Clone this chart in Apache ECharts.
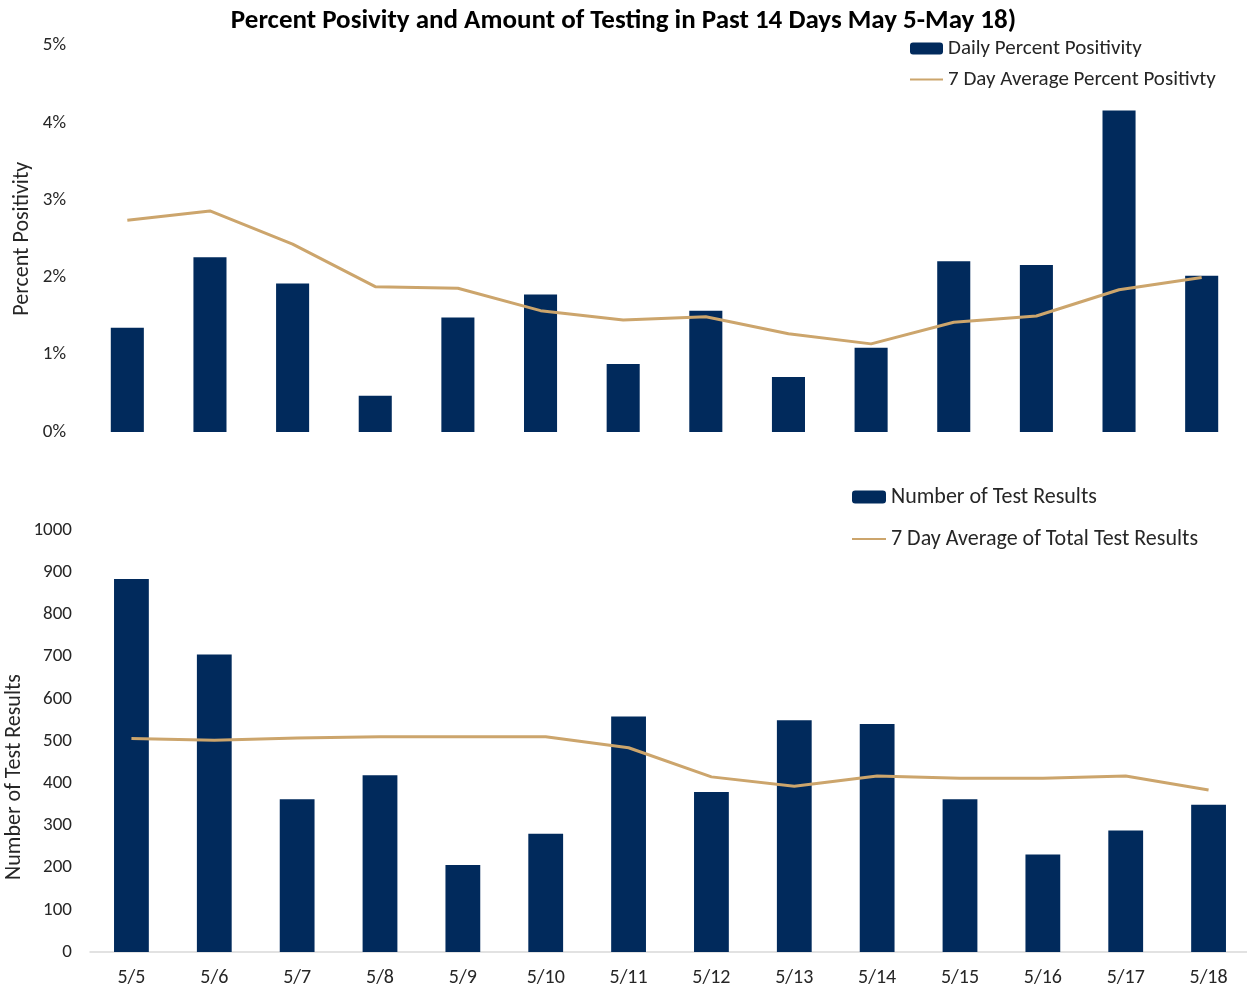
<!DOCTYPE html>
<html>
<head>
<meta charset="utf-8">
<script src="https://cdn.jsdelivr.net/npm/echarts@6/dist/echarts.min.js"></script>
<style>
    html, body { margin: 0; padding: 0; background: #fff; }
    #chart { width: 1247px; height: 989px; }
</style>
</head>
<body>
<div id="chart"></div>
<script>
// dates shared by both panels
const days = ['5/5', '5/6', '5/7', '5/8', '5/9', '5/10', '5/11', '5/12', '5/13', '5/14', '5/15', '5/16', '5/17', '5/18']
// top panel, in percent
const dailyPositivity = [1.35, 2.26, 1.92, 0.47, 1.48, 1.78, 0.88, 1.57, 0.71, 1.09, 2.21, 2.16, 4.16, 2.02]
const avgPositivity = [2.74, 2.86, 2.43, 1.88, 1.86, 1.57, 1.45, 1.49, 1.27, 1.14, 1.42, 1.50, 1.84, 2.00]
// bottom panel, counts
const testResults = [884, 705, 362, 419, 206, 280, 558, 379, 549, 540, 362, 231, 288, 349]
const avgTestResults = [506, 502, 507, 510, 510, 510, 484, 415, 393, 417, 412, 412, 417, 384]

const navy = '#012A5C'
const tan = '#CCA56C'
const font = 'Carlito, Calibri, Lato, sans-serif'
const grey = '#262626'

const chart = echarts.init(document.getElementById('chart'))
chart.setOption({
    animation: false,
    textStyle: { fontFamily: font, color: grey },
    title: {
        text: 'Percent Posivity and Amount of Testing in Past 14 Days May 5-May 18)',
        left: 'center',
        top: 3,
        textStyle: { fontFamily: font, fontSize: 27, fontWeight: 'bold', color: '#000' }
    },
    legend: [
        {
            orient: 'vertical',
            left: 904,
            top: 33,
            itemWidth: 33,
            itemHeight: 12,
            itemGap: 10,
            textStyle: { fontFamily: font, fontSize: 21, color: grey, lineHeight: 20 },
            data: [
                'Daily Percent Positivity',
                { name: '7 Day Average Percent Positivty', itemStyle: { opacity: 0 } }
            ]
        },
        {
            orient: 'vertical',
            left: 846,
            top: 481,
            itemWidth: 34,
            itemHeight: 13,
            itemGap: 20,
            textStyle: { fontFamily: font, fontSize: 22, color: grey, lineHeight: 20 },
            data: [
                'Number of Test Results',
                { name: '7 Day Average of Total Test Results', itemStyle: { opacity: 0 } }
            ]
        }
    ],
    grid: [
        { left: 86, right: 4, top: 45.5, bottom: 557, outerBoundsMode: 'none' },
        { left: 90, right: -3, top: 530, bottom: 37, outerBoundsMode: 'none' }
    ],
    xAxis: [
        {
            type: 'category',
            gridIndex: 0,
            data: days,
            axisLine: { show: false },
            axisTick: { show: false },
            axisLabel: { show: false }
        },
        {
            type: 'category',
            gridIndex: 1,
            data: days,
            axisLine: { lineStyle: { color: '#d9d9d9', width: 1.5 } },
            axisTick: { show: false },
            axisLabel: { fontFamily: font, fontSize: 20, color: grey, margin: 16 }
        }
    ],
    yAxis: [
        {
            type: 'value',
            gridIndex: 0,
            min: 0,
            max: 5,
            interval: 1,
            name: 'Percent Positivity',
            nameLocation: 'middle',
            nameGap: 53,
            nameMoveOverlap: false,
            nameTextStyle: { fontFamily: font, fontSize: 22, color: grey },
            splitLine: { show: false },
            axisLine: { show: false },
            axisTick: { show: false },
            axisLabel: { formatter: '{value}%', fontFamily: font, fontSize: 19, color: grey, margin: 20 }
        },
        {
            type: 'value',
            gridIndex: 1,
            min: 0,
            max: 1000,
            interval: 100,
            name: 'Number of Test Results',
            nameLocation: 'middle',
            nameGap: 65,
            nameMoveOverlap: false,
            nameTextStyle: { fontFamily: font, fontSize: 22, color: grey, padding: [0, 72, 0, 0] },
            splitLine: { show: false },
            axisLine: { show: false },
            axisTick: { show: false },
            axisLabel: { formatter: (v) => String(v), fontFamily: font, fontSize: 19, color: grey, margin: 18 }
        }
    ],
    series: [
        {
            name: 'Daily Percent Positivity',
            type: 'bar',
            xAxisIndex: 0,
            yAxisIndex: 0,
            barWidth: '40%',
            itemStyle: { color: navy },
            data: dailyPositivity
        },
        {
            name: '7 Day Average Percent Positivty',
            type: 'line',
            xAxisIndex: 0,
            yAxisIndex: 0,
            symbol: 'none',
            lineStyle: { color: tan, width: 3 },
            itemStyle: { color: tan },
            data: avgPositivity
        },
        {
            name: 'Number of Test Results',
            type: 'bar',
            xAxisIndex: 1,
            yAxisIndex: 1,
            barWidth: '42%',
            itemStyle: { color: navy },
            data: testResults
        },
        {
            name: '7 Day Average of Total Test Results',
            type: 'line',
            xAxisIndex: 1,
            yAxisIndex: 1,
            symbol: 'none',
            lineStyle: { color: tan, width: 3 },
            itemStyle: { color: tan },
            data: avgTestResults
        }
    ]
})
</script>
</body>
</html>
